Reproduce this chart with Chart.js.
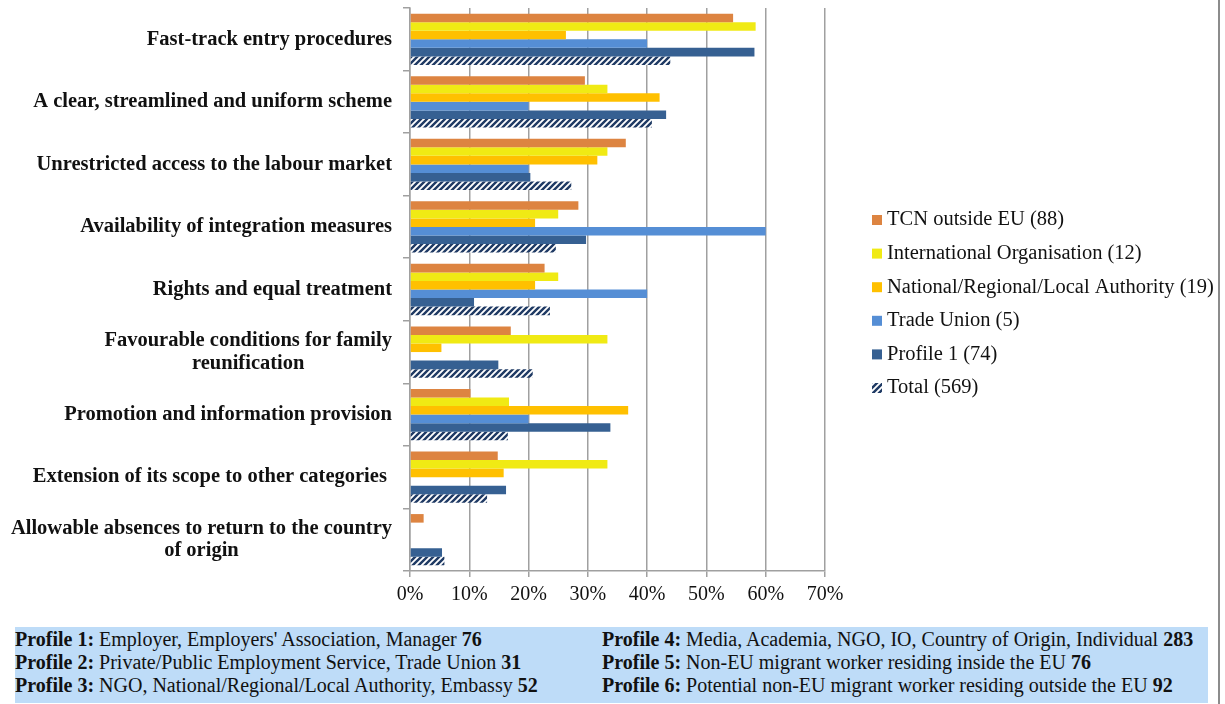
<!DOCTYPE html>
<html>
<head>
<meta charset="utf-8">
<script src="https://cdn.jsdelivr.net/npm/chart.js@4.4.1/dist/chart.umd.min.js"></script>
<style>
  body { margin: 0; background: #fff; }
  #wrap { position: relative; width: 1225px; height: 704px; overflow: hidden; }
  #chart { position: absolute; left: 0; top: 0; }
  #frame { position: absolute; left: 1218px; top: 0; width: 2px; height: 704px; background: #8c8c8c; }
  #profiles {
    position: absolute; left: 15px; top: 627px; width: 1193px; height: 76px;
    background: #bedcf8; font-family: "Liberation Serif", "Times New Roman", serif;
    font-size: 20px; line-height: 23px; color: #111;
  }
  #profiles .col { position: absolute; top: 1px; white-space: nowrap; }
  #profiles .c1 { left: 0; }
  #profiles .c2 { left: 587px; }
</style>
</head>
<body>
<div id="wrap">
  <canvas id="chart" width="1225" height="620"></canvas>
  <div id="frame"></div>
  <div id="profiles">
    <div class="col c1">
      <div><b>Profile 1:</b> Employer, Employers' Association, Manager <b>76</b></div>
      <div><b>Profile 2:</b> Private/Public Employment Service, Trade Union <b>31</b></div>
      <div><b>Profile 3:</b> NGO, National/Regional/Local Authority, Embassy <b>52</b></div>
    </div>
    <div class="col c2">
      <div><b>Profile 4:</b> Media, Academia, NGO, IO, Country of Origin, Individual <b>283</b></div>
      <div><b>Profile 5:</b> Non-EU migrant worker residing inside the EU <b>76</b></div>
      <div><b>Profile 6:</b> Potential non-EU migrant worker residing outside the EU <b>92</b></div>
    </div>
  </div>
</div>
<script>
// categories (top to bottom)
const categories = [
  "Fast-track entry procedures",
  "A clear, streamlined and uniform scheme",
  "Unrestricted access to the labour market",
  "Availability of integration measures",
  "Rights and equal treatment",
  ["Favourable conditions for family", "reunification"],
  "Promotion and information provision",
  "Extension of its scope to other categories ",
  ["Allowable absences to return to the country", "of origin"]
];

// series values, in %
const tcnOutsideEU   = [54.5, 29.5, 36.4, 28.4, 22.7, 17.0, 10.2, 14.8, 2.3];
const intlOrg        = [58.3, 33.3, 33.3, 25.0, 25.0, 33.3, 16.7, 33.3, 0];
const nationalAuth   = [26.3, 42.1, 31.6, 21.1, 21.1, 5.3, 36.8, 15.8, 0];
const tradeUnion     = [40, 20, 20, 60, 40, 0, 20, 0, 0];
const profile1       = [58.1, 43.2, 20.3, 29.7, 10.8, 14.9, 33.8, 16.2, 5.4];
const total          = [43.9, 40.8, 27.2, 24.6, 23.6, 20.7, 16.5, 13.0, 5.8];

const seriesNames = [
  "TCN outside EU (88)",
  "International Organisation (12)",
  "National/Regional/Local Authority (19)",
  "Trade Union (5)",
  "Profile 1 (74)",
  "Total (569)"
];

// x axis ticks
const xTicks = [0, 10, 20, 30, 40, 50, 60, 70];

function hatch() {
  const c = document.createElement('canvas');
  c.width = 6; c.height = 6;
  const g = c.getContext('2d');
  g.fillStyle = '#fff';
  g.fillRect(0, 0, 6, 6);
  g.strokeStyle = '#1f3a64';
  g.lineWidth = 2.4;
  g.beginPath();
  g.moveTo(-1, 7); g.lineTo(7, -1);
  g.moveTo(-4, 4); g.lineTo(4, -4);
  g.moveTo(2, 10); g.lineTo(10, 2);
  g.stroke();
  return g.createPattern(c, 'repeat');
}

const colors = ['#dd8441', '#f0ea14', '#ffc000', '#558ed5', '#366092', hatch()];
const values = [tcnOutsideEU, intlOrg, nationalAuth, tradeUnion, profile1, total];

const serif = "'Liberation Serif', 'Times New Roman', serif";

// category labels drawn as centred blocks, right aligned to the axis
const catLabels = {
  id: 'catLabels',
  afterDraw(chart) {
    const ctx = chart.ctx, y = chart.scales.y;
    ctx.save();
    ctx.font = "bold 20.5px " + serif;
    ctx.fillStyle = '#111';
    ctx.textAlign = 'center';
    ctx.textBaseline = 'middle';
    const right = chart.chartArea.left - 18;
    chart.data.labels.forEach((lab, i) => {
      const lines = Array.isArray(lab) ? lab : [lab];
      const w = Math.max(...lines.map(l => ctx.measureText(l).width));
      const cx = right - w / 2;
      const cy = y.getPixelForValue(i);
      lines.forEach((l, k) => {
        ctx.fillText(l, cx, cy + (k - (lines.length - 1) / 2) * 22.5);
      });
    });
    ctx.restore();
  }
};

// legend on the right
const sideLegend = {
  id: 'sideLegend',
  afterDraw(chart) {
    const ctx = chart.ctx;
    const x = chart.chartArea.right + 47;
    ctx.save();
    ctx.font = "20.5px " + serif;
    ctx.textBaseline = 'middle';
    chart.data.datasets.forEach((ds, i) => {
      const cy = 220 + i * 33.6;
      ctx.fillStyle = ds.backgroundColor;
      ctx.fillRect(x, cy - 5, 10, 10);
      ctx.fillStyle = '#111';
      ctx.fillText(ds.label, x + 15, cy);
    });
    ctx.restore();
  }
};

new Chart(document.getElementById('chart'), {
  type: 'bar',
  data: {
    labels: categories,
    datasets: values.map((v, i) => ({
      label: seriesNames[i],
      data: v,
      backgroundColor: colors[i],
      borderWidth: 0,
      categoryPercentage: 0.82,
      barPercentage: 1
    }))
  },
  options: {
    indexAxis: 'y',
    responsive: false,
    animation: false,
    layout: { padding: { top: 8, right: 400, bottom: 0, left: 0 } },
    plugins: { legend: { display: false }, tooltip: { enabled: false } },
    scales: {
      x: {
        min: 0, max: 70,
        afterBuildTicks(scale) { scale.ticks = xTicks.map(v => ({ value: v })); },
        afterFit(scale) { scale.height = 49; },
        ticks: {
          callback: v => v + '%',
          color: '#111',
          padding: 6,
          font: { family: serif, size: 20 }
        },
        grid: { color: '#a0a0a0', lineWidth: 1.5, tickLength: 6 },
        border: { color: '#a0a0a0', width: 1.5 }
      },
      y: {
        afterFit(scale) { scale.width = 410; },
        ticks: { display: false },
        grid: { offset: true, drawOnChartArea: false, color: '#a0a0a0', lineWidth: 1.5, tickLength: 7 },
        border: { color: '#a0a0a0', width: 1.5 }
      }
    }
  },
  plugins: [catLabels, sideLegend]
});
</script>
</body>
</html>
